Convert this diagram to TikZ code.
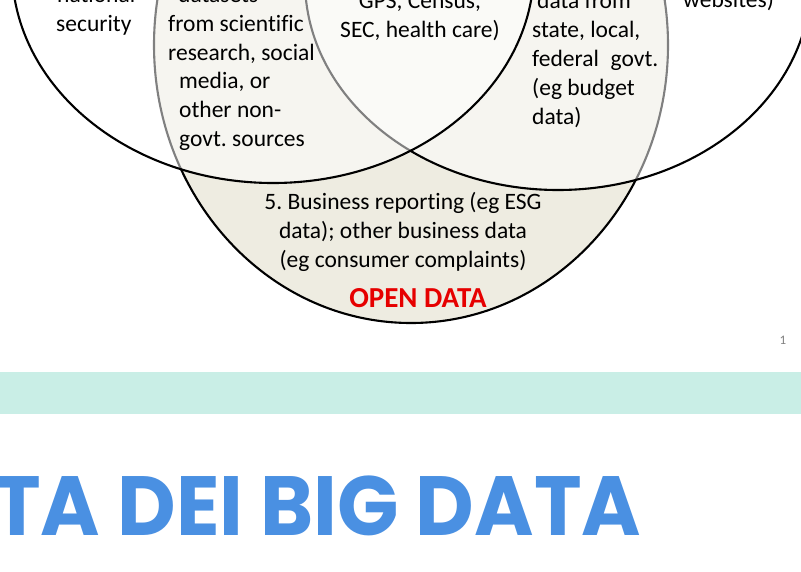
\documentclass[tikz,border=0pt]{standalone}
\usepackage{fontspec}
\setmainfont{Carlito}[Ligatures=NoCommon]
\newfontfamily\titlefont{Poppins}
\definecolor{odfill}{HTML}{EEECE1}
\definecolor{bandteal}{HTML}{C9EEE6}
\definecolor{titleblue}{HTML}{4A90E2}
\definecolor{openred}{HTML}{E60000}
\frenchspacing
\begin{document}
\begin{tikzpicture}[x=1pt,y=-1pt,
  venntext/.style={inner sep=0pt, anchor=base west, font=\fontsize{23.5}{28.8}\selectfont},
  venncenter/.style={inner sep=0pt, anchor=base, font=\fontsize{23.5}{28.8}\selectfont},
  outline/.style={draw=black, line width=2.1pt},
  veil/.style={outline, fill=white, fill opacity=0.5}]
\useasboundingbox (0,0) rectangle (801,571);
\clip (0,0) rectangle (801,571);
\fill[white] (0,0) rectangle (801,571);

% open data set, underneath
\path[outline, fill=odfill] (411,45) ellipse [x radius=257pt, y radius=278pt];
% the two upper sets, translucent white over it
\path[veil] (558,-19) ellipse [x radius=253pt, y radius=209pt];
\path[veil] (273,-32) ellipse [x radius=261pt, y radius=215pt];

% left set
\node[venntext] (nat1) at (57,2) {national};
\node[venntext] (nat2) at (56,31) {security};
% open data within the left set
\node[venntext] (sci0) at (178,2) {datasets};
\node[venntext] (sci1) at (168,31) {from scientific};
\node[venntext] (sci2) at (168,60) {research, social};
\node[venntext] (sci3) at (179,88.5) {media, or};
\node[venntext] (sci4) at (179,117) {other non-};
\node[venntext] (sci5) at (179,146) {govt. sources};
% centre
\node[venncenter] (gov1) at (420,8) {GPS, Census,};
\node[venncenter] (gov2) at (420,37) {SEC, health care)};
% open data within the right set
\node[venntext] (st0) at (537,8) {data from};
\node[venntext] (st1) at (532,37) {state, local,};
\node[venntext] (st2) at (532,66) {federal\hspace{0.5em}govt.};
\node[venntext] (st3) at (532,95) {(eg budget};
\node[venntext] (st4) at (532,124) {data)};
% right set
\node[venntext] (web) at (683,7) {websites)};
% open data only
\node[venncenter] (bus1) at (403,209) {5. Business reporting (eg ESG};
\node[venncenter] (bus2) at (403,238) {data); other business data};
\node[venncenter] (bus3) at (403,267) {(eg consumer complaints)};
\node[inner sep=0pt, anchor=base, text=openred,
      font=\fontsize{29}{34}\selectfont\bfseries] (open) at (418,307) {OPEN DATA};

% slide number
\node[inner sep=0pt, anchor=base, text=gray, font=\fontsize{13}{15}\selectfont] (pg) at (783,344) {1};

% band and heading
\fill[bandteal] (0,372) rectangle (801,414);
\node[inner sep=0pt, anchor=base west, text=titleblue, xscale=0.96,
      font=\titlefont\bfseries\fontsize{84}{90}\selectfont] (title) at (-7,535) {TA DEI BIG DATA};
\end{tikzpicture}
\end{document}
